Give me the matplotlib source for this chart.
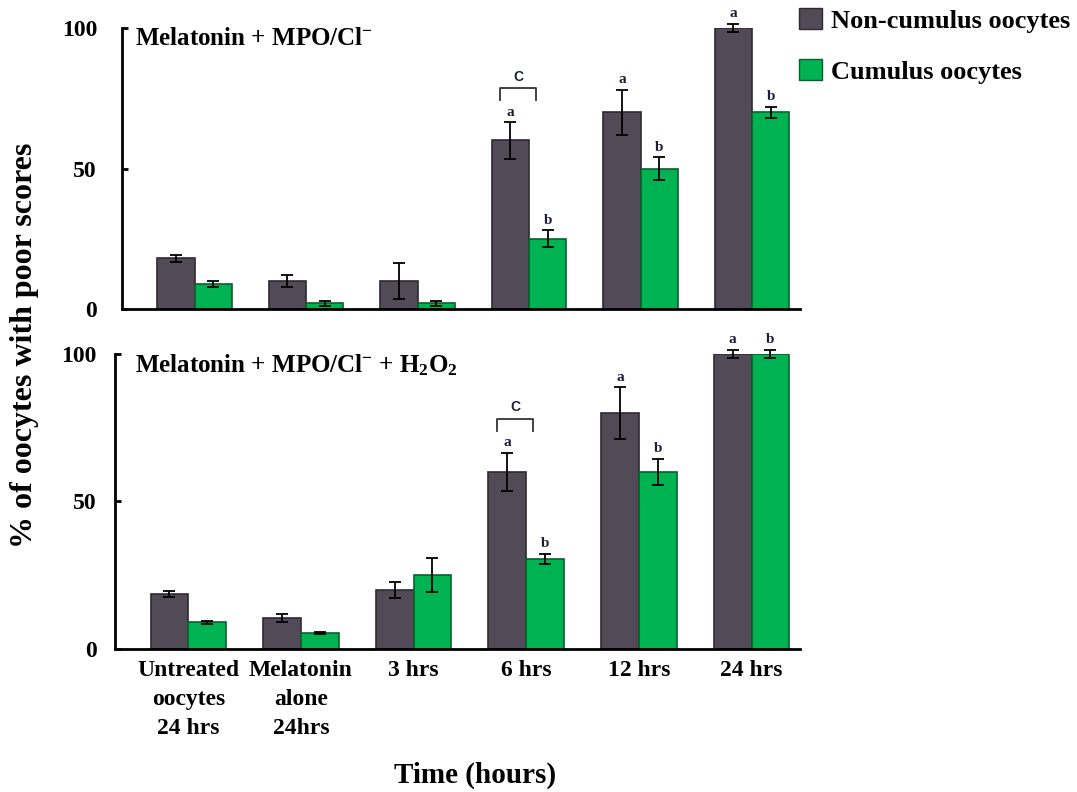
import numpy as np
import matplotlib
matplotlib.use("Agg")
import matplotlib.pyplot as plt
from matplotlib.patches import Patch

plt.rcParams['font.family'] = ['Liberation Serif', 'DejaVu Serif']
plt.rcParams['font.weight'] = 'bold'
plt.rcParams['mathtext.fontset'] = 'custom'
plt.rcParams['mathtext.rm'] = 'Liberation Serif:bold'
plt.rcParams['mathtext.it'] = 'Liberation Serif:bold'
plt.rcParams['mathtext.bf'] = 'Liberation Serif:bold'

# data
categories = ["Untreated\noocytes\n24 hrs", "Melatonin\nalone\n24hrs", "3 hrs",
              "6 hrs", "12 hrs", "24 hrs"]

top_noncum = [18, 10, 10, 60, 70, 100]
top_noncum_err = [1.2, 2, 6.5, 6.5, 8, 1.5]
top_cum = [9, 2, 2, 25, 50, 70]
top_cum_err = [1, 1, 1, 3, 4, 2]

bot_noncum = [18.5, 10.5, 20, 60, 80, 100]
bot_noncum_err = [1, 1.2, 2.8, 6.5, 8.7, 1.5]
bot_cum = [9, 5.3, 25, 30.5, 60, 100]
bot_cum_err = [0.6, 0.3, 5.8, 1.8, 4.5, 1.5]

noncum_letters = ["", "", "", "a", "a", "a"]
cum_letters = ["", "", "", "b", "b", "b"]
bracket_group = 3
bracket_label = "C"

c_dark = "#524a56"
c_green = "#00b352"
c_letter = "#1c1c3c"

fig = plt.figure(figsize=(10.77, 7.92), dpi=100)
ax_top = fig.add_axes([0.1133, 0.6098, 0.6295, 0.3548])
ax_bot = fig.add_axes([0.1068, 0.1806, 0.6360, 0.3725])

x = np.arange(len(categories))
w = 0.335


def draw_panel(ax, nc, nce, cu, cue, title, title_x, lpad, brk_y):
    ax.bar(x - w / 2, nc, w, color=c_dark, edgecolor="#2e2a30", linewidth=1.2, zorder=2)
    ax.bar(x + w / 2, cu, w, color=c_green, edgecolor="#0b5e2e", linewidth=1.2, zorder=2)
    ax.errorbar(x - w / 2, nc, yerr=nce, fmt="none", ecolor="black", elinewidth=1.3,
                capsize=4, capthick=1.3, zorder=3, clip_on=False)
    ax.errorbar(x + w / 2, cu, yerr=cue, fmt="none", ecolor="black", elinewidth=1.3,
                capsize=4, capthick=1.3, zorder=3, clip_on=False)
    for i in range(len(x)):
        if noncum_letters[i]:
            ax.text(x[i] - w / 2, nc[i] + nce[i] + 1.2, noncum_letters[i], ha="center",
                    va="bottom", fontsize=11, color=c_letter, clip_on=False)
        if cum_letters[i]:
            ax.text(x[i] + w / 2, cu[i] + cue[i] + 1.2, cum_letters[i], ha="center",
                    va="bottom", fontsize=11, color=c_letter, clip_on=False)
    # bracket over 6 hrs group
    bx0 = x[bracket_group] - 0.26
    bx1 = x[bracket_group] + 0.06
    ax.plot([bx0, bx0, bx1, bx1], [brk_y - 4.2, brk_y, brk_y, brk_y - 4.2],
            color="#333333", lw=1.3)
    ax.text((bx0 + bx1) / 2, brk_y + 1.5, bracket_label, ha="center", va="bottom",
            fontsize=10, color=c_letter, family="Liberation Sans")

    ax.set_xlim(-0.65, 5.43)
    ax.set_ylim(0, 100)
    ax.set_yticks([0, 50, 100])
    ax.tick_params(axis="y", direction="in", length=4, width=2, labelsize=17, pad=lpad)
    ax.tick_params(axis="x", length=0)
    for s in ["top", "right"]:
        ax.spines[s].set_visible(False)
    for s in ["left", "bottom"]:
        ax.spines[s].set_linewidth(2)
    ax.text(title_x, 0.963, title, transform=ax.transAxes, ha="left", va="center",
            fontsize=18)


draw_panel(ax_top, top_noncum, top_noncum_err, top_cum, top_cum_err,
           r"Melatonin + MPO/Cl$^{-}$", 0.019, 18, 78.6)
ax_top.set_xticks([])

draw_panel(ax_bot, bot_noncum, bot_noncum_err, bot_cum, bot_cum_err,
           r"Melatonin + MPO/Cl$^{-}$ + H$_2$O$_2$", 0.029, 13, 78)
ax_bot.set_xticks(x)
ax_bot.set_xticklabels(categories, fontsize=17, linespacing=1.5)
ax_bot.tick_params(axis="x", pad=8)

fig.text(0.441, 1 - 775 / 792, "Time (hours)", ha="center", va="center", fontsize=21)
fig.text(0.023, 1 - 345 / 792, "% of oocytes with poor scores", rotation=90,
         ha="center", va="center", fontsize=23)

handles = [Patch(facecolor=c_dark, edgecolor="#2e2a30", label="Non-cumulus oocytes"),
           Patch(facecolor=c_green, edgecolor="#0b5e2e", label="Cumulus oocytes")]
fig.legend(handles=handles, loc="upper left", bbox_to_anchor=(0.742, 0.99),
           frameon=False, fontsize=19, handlelength=0.85, handleheight=0.85,
           handletextpad=0.35, labelspacing=1.0, borderaxespad=0, borderpad=0)

fig.savefig("out.png", dpi=100)
